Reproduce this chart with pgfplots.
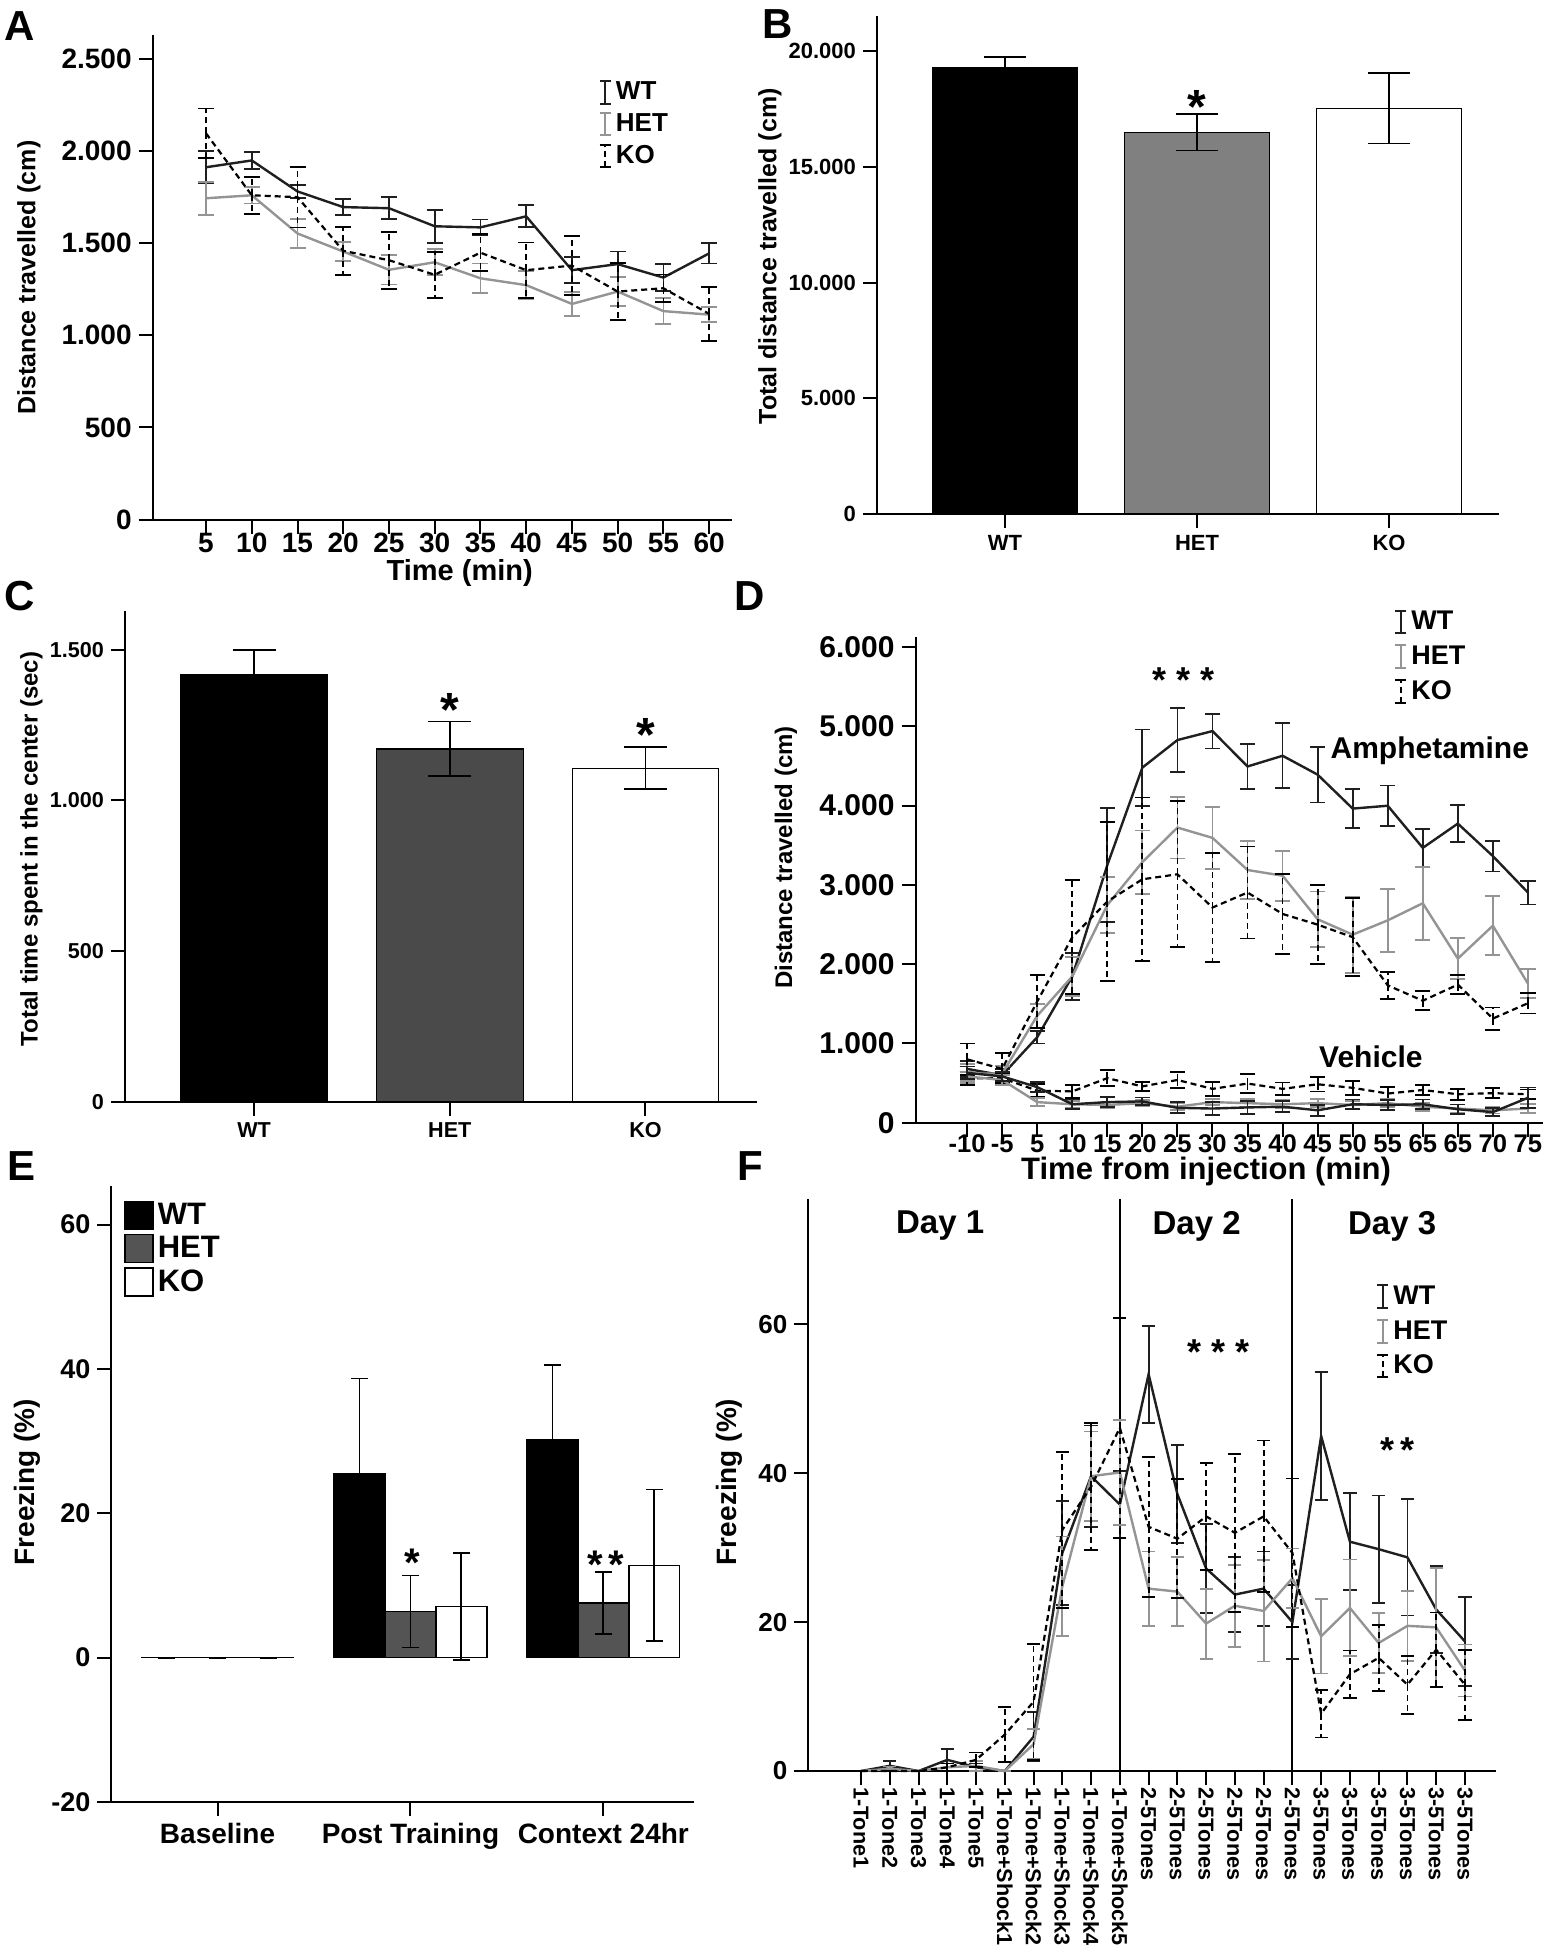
\documentclass[border=0pt]{standalone}
\usepackage{fontspec}
\setmainfont{Liberation Sans}
\usepackage{pgfplots}
\pgfplotsset{compat=1.18}
\newcommand\fs[1]{\fontsize{#1pt}{#1pt}\selectfont}
\pgfplotsset{
  base/.style={scale only axis, clip=false, anchor=south west,
    axis x line*=bottom, axis y line*=left,
    tick align=outside, major tick length=7pt,
    axis line style={line width=1pt},
    every tick/.append style={line width=1pt, black},
    scaled ticks=false,
    /pgf/number format/assume math mode=true,
    legend cell align=left},
  ebleg/.style={legend image code/.code={
    \draw[##1, line width=1pt] (0.1cm,-0.2cm) -- (0.1cm,0.2cm);
    \draw[##1, solid, line width=1pt] (0cm,0.2cm) -- (0.2cm,0.2cm) (0cm,-0.2cm) -- (0.2cm,-0.2cm);}},
  barleg/.style={legend image code/.code={
    \draw[##1, line width=0.7pt] (0pt,-7pt) rectangle (14pt,7pt);}},
  wt/.style={black!88, line width=1.2pt, solid, mark=none},
  het/.style={black!42, line width=1.2pt, solid, mark=none},
  ko/.style={black, line width=1.1pt, dash pattern=on 3pt off 2pt, mark=none},
  eb/.style n args={2}{error bars/.cd, y dir=both, y explicit,
    error bar style={line width=0.9pt,#1},
    error mark options={rotate=90, mark size=#2, line width=0.9pt, solid}},
}
\begin{document}
\begin{tikzpicture}
\path[use as bounding box] (0,0) rectangle (782.5pt,-975pt);
% panel letters
\node[font=\bfseries\fs{21}] at (10pt,-13pt) {A};
\node[font=\bfseries\fs{21}] at (389pt,-12pt) {B};
\node[font=\bfseries\fs{21}] at (10pt,-298pt) {C};
\node[font=\bfseries\fs{21}] at (375pt,-298pt) {D};
\node[font=\bfseries\fs{21}] at (11pt,-583pt) {E};
\node[font=\bfseries\fs{21}] at (375pt,-583pt) {F};

% ---------------- A ----------------
\begin{axis}[base, ebleg, at={(76.35pt,-259.85pt)}, width=289.65pt, height=242.25pt,
  xmin=-0.83, xmax=62.5, ymin=0, ymax=2627,
  xtick={5,10,15,20,25,30,35,40,45,50,55,60},
  xticklabels={5,10,15,20,25,30,35,40,45,50,55,60},
  ytick={0,500,1000,1500,2000,2500}, yticklabels={0,500,1.000,1.500,2.000,2.500},
  tick label style={font=\bfseries\fs{14}},
  xticklabel shift=-4pt,
  xlabel={Time (min)}, ylabel={Distance travelled (cm)},
  xlabel style={at={(axis description cs:0.53,-0.11)}, anchor=center, font=\bfseries\fs{14.5}},
  ylabel style={at={(axis description cs:-0.2135,0.5)}, anchor=center, font=\bfseries\fs{12.5}},
  legend style={at={(axis description cs:0.769,0.913)}, anchor=north west, draw=none, fill=none,
    font=\bfseries\fs{13}, inner sep=0pt, row sep=1.5pt}]
\addplot[wt, eb={solid}{4pt}] coordinates {
 (5,1911) +- (0,88) (10,1948) +- (0,45) (15,1780) +- (0,36) (20,1695) +- (0,45)
 (25,1689) +- (0,60) (30,1591) +- (0,90) (35,1585) +- (0,43) (40,1645) +- (0,60)
 (45,1353) +- (0,70) (50,1386) +- (0,68) (55,1313) +- (0,72) (60,1444) +- (0,55)};
\addlegendentry{WT}
\addplot[het, eb={solid}{4pt}] coordinates {
 (5,1743) +- (0,90) (10,1759) +- (0,45) (15,1552) +- (0,80) (20,1454) +- (0,50)
 (25,1355) +- (0,80) (30,1396) +- (0,70) (35,1309) +- (0,80) (40,1272) +- (0,75)
 (45,1170) +- (0,65) (50,1237) +- (0,80) (55,1131) +- (0,70) (60,1112) +- (0,40)};
\addlegendentry{HET}
\addplot[ko, eb={dash pattern=on 3pt off 2pt}{4pt}] coordinates {
 (5,2095) +- (0,135) (10,1759) +- (0,100) (15,1749) +- (0,165) (20,1458) +- (0,130)
 (25,1407) +- (0,155) (30,1328) +- (0,125) (35,1448) +- (0,100) (40,1353) +- (0,150)
 (45,1378) +- (0,160) (50,1237) +- (0,155) (55,1255) +- (0,75) (60,1116) +- (0,145)};
\addlegendentry{KO}
\end{axis}

% ---------------- B ----------------
\begin{axis}[base, at={(438.5pt,-257pt)}, width=311pt, height=249.25pt,
  xmin=-0.667, xmax=2.573, ymin=0, ymax=21533,
  xtick={0,1,2}, xticklabels={WT,HET,KO},
  ytick={0,5000,10000,15000,20000}, yticklabels={0,5.000,10.000,15.000,20.000},
  tick label style={font=\bfseries\fs{11}},
  ylabel={Total distance travelled (cm)},
  ylabel style={at={(axis description cs:-0.172,0.517)}, anchor=center, font=\bfseries\fs{12.5}}]
\addplot[ybar, bar width=0.755, bar shift=0pt, fill=black, draw=black, line width=0.6pt, eb={black}{10.5pt}]
  coordinates {(0,19297) +- (0,430)};
\addplot[ybar, bar width=0.755, bar shift=0pt, fill=black!50, draw=black, line width=0.6pt, eb={black}{10.5pt}]
  coordinates {(1,16486) +- (0,780)};
\addplot[ybar, bar width=0.755, bar shift=0pt, fill=white, draw=black, line width=0.6pt, eb={black}{10.5pt}]
  coordinates {(2,17524) +- (0,1520)};
\node[font=\bfseries\fs{24}, anchor=base] at (axis cs:1,16847) {*};
\end{axis}

% ---------------- C ----------------
\begin{axis}[base, at={(62.5pt,-550.8pt)}, width=316pt, height=245.3pt,
  xmin=-0.66, xmax=2.57, ymin=0, ymax=1629,
  xtick={0,1,2}, xticklabels={WT,HET,KO},
  ytick={0,500,1000,1500}, yticklabels={0,500,1.000,1.500},
  tick label style={font=\bfseries\fs{10.8}},
  ylabel={Total time spent in the center (sec)},
  ylabel style={at={(axis description cs:-0.148,0.515)}, anchor=center, font=\bfseries\fs{12}}]
\addplot[ybar, bar width=0.75, bar shift=0pt, fill=black, draw=black, line width=0.6pt, eb={black}{10.8pt}]
  coordinates {(0,1418) +- (0,81)};
\addplot[ybar, bar width=0.75, bar shift=0pt, fill=black!71, draw=black, line width=0.6pt, eb={black}{10.8pt}]
  coordinates {(1,1171) +- (0,91)};
\addplot[ybar, bar width=0.75, bar shift=0pt, fill=white, draw=black, line width=0.6pt, eb={black}{10.8pt}]
  coordinates {(2,1107) +- (0,70)};
\node[font=\bfseries\fs{24}, anchor=base] at (axis cs:1,1247) {*};
\node[font=\bfseries\fs{24}, anchor=base] at (axis cs:2,1162) {*};
\end{axis}

% ---------------- D ----------------
\begin{axis}[base, ebleg, at={(457.8pt,-561.4pt)}, width=313.7pt, height=242.9pt,
  xmin=-1.47, xmax=16.43, ymin=0, ymax=6124,
  xtick={0,...,16},
  xticklabels={-10,-5,5,10,15,20,25,30,35,40,45,50,55,65,65,70,75},
  ytick={0,1000,2000,3000,4000,5000,6000},
  yticklabels={0,1.000,2.000,3.000,4.000,5.000,6.000},
  yticklabel style={font=\bfseries\fs{15}},
  xticklabel style={font=\bfseries\fs{12.8}, inner xsep=0pt},
  xticklabel shift=-4.5pt,
  xlabel={Time from injection (min)}, ylabel={Distance travelled (cm)},
  xlabel style={at={(axis description cs:0.463,-0.1)}, anchor=center, font=\bfseries\fs{15.5}},
  ylabel style={at={(axis description cs:-0.2066,0.546)}, anchor=center, font=\bfseries\fs{12}},
  legend style={at={(axis description cs:0.762,1.062)}, anchor=north west, draw=none, fill=none,
    font=\bfseries\fs{13.5}, inner sep=0pt, row sep=2.5pt}]
\addplot[wt, eb={solid}{3.8pt}] coordinates {
 (0,680) +- (0,100) (1,600) +- (0,80) (2,1080) +- (0,80) (3,1845) +- (0,300)
 (4,3250) +- (0,720) (5,4478) +- (0,480) (6,4825) +- (0,405) (7,4938) +- (0,220)
 (8,4492) +- (0,280) (9,4627) +- (0,410) (10,4389) +- (0,350) (11,3961) +- (0,245)
 (12,3997) +- (0,255) (13,3466) +- (0,240) (14,3772) +- (0,230) (15,3362) +- (0,195)
 (16,2903) +- (0,150)};
\addlegendentry{WT}
\addplot[het, eb={solid}{3.8pt}] coordinates {
 (0,620) +- (0,120) (1,620) +- (0,100) (2,1350) +- (0,150) (3,1845) +- (0,250)
 (4,2746) +- (0,350) (5,3286) +- (0,400) (6,3722) +- (0,390) (7,3592) +- (0,390)
 (8,3187) +- (0,370) (9,3115) +- (0,315) (10,2566) +- (0,350) (11,2372) +- (0,480)
 (12,2552) +- (0,400) (13,2768) +- (0,460) (14,2070) +- (0,260) (15,2485) +- (0,370)
 (16,1755) +- (0,180)};
\addlegendentry{HET}
\addplot[ko, eb={dash pattern=on 3pt off 2pt}{3.8pt}] coordinates {
 (0,800) +- (0,200) (1,680) +- (0,200) (2,1530) +- (0,330) (3,2340) +- (0,720)
 (4,2790) +- (0,1000) (5,3070) +- (0,1030) (6,3133) +- (0,920) (7,2714) +- (0,690)
 (8,2903) +- (0,580) (9,2633) +- (0,500) (10,2498) +- (0,500) (11,2340) +- (0,490)
 (12,1733) +- (0,170) (13,1539) +- (0,120) (14,1742) +- (0,120) (15,1314) +- (0,140)
 (16,1508) +- (0,130)};
\addlegendentry{KO}
\addplot[ko, forget plot, eb={dash pattern=on 3pt off 2pt}{3.8pt}] coordinates {
 (0,560) +- (0,80) (1,563) +- (0,60) (2,405) +- (0,80) (3,396) +- (0,80)
 (4,563) +- (0,100) (5,459) +- (0,60) (6,540) +- (0,100) (7,428) +- (0,90)
 (8,495) +- (0,120) (9,428) +- (0,80) (10,486) +- (0,90) (11,441) +- (0,90)
 (12,369) +- (0,80) (13,414) +- (0,60) (14,360) +- (0,70) (15,374) +- (0,60)
 (16,360) +- (0,60)};
\addplot[het, forget plot, eb={solid}{3.8pt}] coordinates {
 (0,585) +- (0,60) (1,540) +- (0,60) (2,261) +- (0,50) (3,234) +- (0,40)
 (4,225) +- (0,40) (5,248) +- (0,40) (6,203) +- (0,40) (7,261) +- (0,40)
 (8,248) +- (0,50) (9,234) +- (0,50) (10,248) +- (0,50) (11,225) +- (0,50)
 (12,248) +- (0,50) (13,203) +- (0,50) (14,180) +- (0,50) (15,158) +- (0,40)
 (16,180) +- (0,60)};
\addplot[wt, forget plot, eb={solid}{3.8pt}] coordinates {
 (0,630) +- (0,80) (1,585) +- (0,60) (2,450) +- (0,60) (3,234) +- (0,60)
 (4,261) +- (0,60) (5,270) +- (0,50) (6,189) +- (0,70) (7,180) +- (0,80)
 (8,194) +- (0,80) (9,203) +- (0,70) (10,158) +- (0,70) (11,234) +- (0,60)
 (12,225) +- (0,60) (13,234) +- (0,60) (14,171) +- (0,60) (15,135) +- (0,50)
 (16,315) +- (0,130)};
\node[font=\bfseries\fs{18}, anchor=base] at (axis cs:6.18,5430) {* * *};
\node[font=\bfseries\fs{15}] at (axis cs:13.2,4686) {Amphetamine};
\node[font=\bfseries\fs{15}] at (axis cs:11.52,829) {Vehicle};
\end{axis}

% ---------------- E ----------------
\begin{axis}[base, barleg, at={(55.75pt,-901pt)}, width=291.25pt, height=308.15pt,
  xmin=-0.55, xmax=2.47, ymin=-20, ymax=65.4,
  xtick={0,1,2}, xticklabels={Baseline,Post Training,Context 24hr},
  ytick={-20,0,20,40,60}, yticklabels={-20,0,20,40,60},
  yticklabel style={font=\bfseries\fs{13.5}},
  xticklabel style={font=\bfseries\fs{14}},
  ylabel={Freezing (\%)},
  ylabel style={at={(axis description cs:-0.145,0.519)}, anchor=center, font=\bfseries\fs{14}},
  legend style={at={(axis description cs:0.0215,0.979)}, anchor=north west, draw=none, fill=none,
    font=\bfseries\fs{15.5}, inner sep=0pt, row sep=0.5pt}]
\addplot[ybar, bar width=0.264, bar shift=0pt, fill=black, draw=black, line width=0.7pt, eb={black}{4.2pt}]
  coordinates {(-0.264,0) +- (0,0) (0.736,25.5) +- (0,13.2) (1.736,30.2) +- (0,10.4)};
\addlegendentry{WT}
\addplot[ybar, bar width=0.264, bar shift=0pt, fill=black!67, draw=black, line width=0.7pt, eb={black}{4.2pt}]
  coordinates {(0,0) +- (0,0) (1,6.4) +- (0,5) (2,7.6) +- (0,4.3)};
\addlegendentry{HET}
\addplot[ybar, bar width=0.264, bar shift=0pt, fill=white, draw=black, line width=0.7pt, eb={black}{4.2pt}]
  coordinates {(0.264,0) +- (0,0) (1.264,7.1) +- (0,7.4) (2.264,12.8) +- (0,10.5)};
\addlegendentry{KO}
\node[font=\bfseries\fs{20}, anchor=base] at (axis cs:1.007,11.25) {*};
\node[font=\bfseries\fs{20}, anchor=base] at (axis cs:2.012,11.0) {*\hspace{3pt}*};
\end{axis}

% ---------------- F ----------------
\begin{axis}[base, ebleg, at={(404.2pt,-885.5pt)}, width=343.8pt, height=286.25pt,
  xmin=-1.83, xmax=22.08, ymin=0, ymax=76.9,
  xtick={0,...,21},
  xticklabels={1-Tone1,1-Tone2,1-Tone3,1-Tone4,1-Tone5,1-Tone+Shock1,1-Tone+Shock2,1-Tone+Shock3,1-Tone+Shock4,1-Tone+Shock5,2-5Tones,2-5Tones,2-5Tones,2-5Tones,2-5Tones,2-5Tones,3-5Tones,3-5Tones,3-5Tones,3-5Tones,3-5Tones,3-5Tones},
  xticklabel style={rotate=-90, anchor=west, font=\bfseries\fs{10.8}},
  xticklabel shift=-2.5pt,
  ytick={0,20,40,60}, yticklabels={0,20,40,60},
  yticklabel style={font=\bfseries\fs{13}},
  ylabel={Freezing (\%)},
  ylabel style={at={(axis description cs:-0.115,0.505)}, anchor=center, font=\bfseries\fs{14}},
  legend style={at={(axis description cs:0.825,0.855)}, anchor=north west, draw=none, fill=none,
    font=\bfseries\fs{13.5}, inner sep=0pt, row sep=2.5pt}]
\addplot[black, line width=1pt, forget plot] coordinates {(9,0) (9,76.9)};
\addplot[black, line width=1pt, forget plot] coordinates {(15,0) (15,76.9)};
\addplot[wt, eb={solid}{3.3pt}] coordinates {
 (0,0) +- (0,0) (1,0.7) +- (0,0.7) (2,0) +- (0,0) (3,1.5) +- (0,1.5) (4,0.5) +- (0,0.5)
 (5,0) +- (0,0) (6,4.6) +- (0,3.3) (7,29.3) +- (0,7) (8,39.6) +- (0,6.8) (9,35.8) +- (0,4.5)
 (10,53.3) +- (0,6.5) (11,37.2) +- (0,6.6) (12,27.2) +- (0,6) (13,23.7) +- (0,5) (14,24.5) +- (0,5)
 (15,20.0) +- (0,5) (16,45.0) +- (0,8.6) (17,30.8) +- (0,6.5) (18,29.8) +- (0,7.2) (19,28.7) +- (0,7.8)
 (20,21.7) +- (0,5.8) (21,17.4) +- (0,6)};
\addlegendentry{WT}
\addplot[het, eb={solid}{3.3pt}] coordinates {
 (0,0) +- (0,0) (1,0.3) +- (0,0.3) (2,0) +- (0,0) (3,0.5) +- (0,0.5) (4,0.7) +- (0,0.7)
 (5,0) +- (0,0) (6,3.6) +- (0,2) (7,24.8) +- (0,6.7) (8,39.6) +- (0,6) (9,40.1) +- (0,7)
 (10,24.5) +- (0,5) (11,24.1) +- (0,4.6) (12,19.8) +- (0,4.7) (13,22.2) +- (0,5.5) (14,21.5) +- (0,6.8)
 (15,25.9) +- (0,4) (16,18.1) +- (0,5) (17,21.9) +- (0,6.5) (18,17.2) +- (0,4) (19,19.5) +- (0,4.7)
 (20,19.3) +- (0,8) (21,13.5) +- (0,3.5)};
\addlegendentry{HET}
\addplot[ko, eb={dash pattern=on 3pt off 2pt}{3.3pt}] coordinates {
 (0,0) +- (0,0) (1,0) +- (0,0) (2,0) +- (0,0) (3,0.5) +- (0,0.5) (4,1.5) +- (0,1)
 (5,4.9) +- (0,3.7) (6,9.3) +- (0,7.8) (7,32.4) +- (0,10.5) (8,38.2) +- (0,8.5) (9,46.1) +- (0,14.8)
 (10,32.8) +- (0,9.4) (11,31.2) +- (0,8) (12,34.2) +- (0,7.2) (13,32.0) +- (0,10.6) (14,34.2) +- (0,10.2)
 (15,29.3) +- (0,10) (16,7.7) +- (0,3.2) (17,13.0) +- (0,3.2) (18,15.2) +- (0,4.4) (19,11.6) +- (0,3.9)
 (20,16.3) +- (0,5) (21,11.6) +- (0,4.7)};
\addlegendentry{KO}
\node[font=\bfseries\fs{16.5}] at (axis cs:2.75,73.2) {Day 1};
\node[font=\bfseries\fs{16.5}] at (axis cs:11.67,73.2) {Day 2};
\node[font=\bfseries\fs{16.5}] at (axis cs:18.47,73.2) {Day 3};
\node[font=\bfseries\fs{18}, anchor=base] at (axis cs:12.44,54.6) {* * *};
\node[font=\bfseries\fs{18}, anchor=base] at (axis cs:18.65,41.5) {*\hspace{3pt}*};
\end{axis}
\end{tikzpicture}
\end{document}
